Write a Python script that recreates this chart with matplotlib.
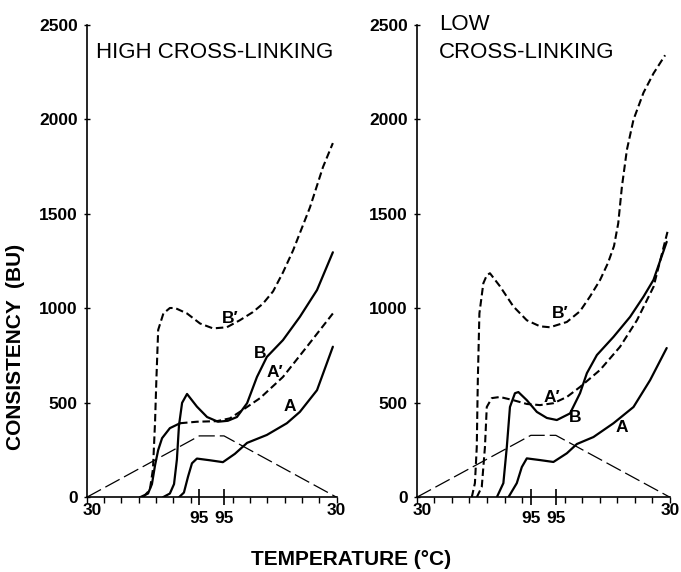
import matplotlib
matplotlib.use("Agg")
import matplotlib.pyplot as plt
import matplotlib.transforms as mtransforms
import numpy as np

plt.rcParams['font.family'] = ['Liberation Sans', 'DejaVu Sans']

# time axis (min): heat 30->95 at 1.5 C/min, hold at 95, cool 95->30
heat_end = 43.33
hold_end = 52.83
t_end = 96.17

# temperature program line (drawn in BU scale)
temp_t = [0, heat_end, hold_end, t_end]
temp_high = [0, 325, 325, 0]
temp_low = [0, 328, 328, 0]

# ---- high cross-linking ----
hA_t = [35.5, 37.4, 39.0, 40.5, 42.4, 47.4, 52.4, 57.0, 61.7, 69.3, 77.0, 82.0, 88.6, 94.7]
hA_bu = [0, 25, 110, 180, 205, 196, 186, 230, 288, 330, 392, 452, 567, 797]

hB_t = [29.3, 32.0, 33.6, 34.7, 35.5, 36.7, 38.6, 42.4, 46.3, 50.5, 54.3, 57.8, 61.7, 65.5, 69.3, 75.5, 82.0, 88.6, 94.7]
hB_bu = [0, 20, 70, 200, 380, 500, 547, 480, 425, 400, 405, 425, 498, 637, 743, 832, 955, 1097, 1297]

hA2_t = [20.5, 23.6, 25.1, 26.3, 27.5, 29.0, 32.0, 35.9, 42.4, 50.1, 55.1, 58.9, 66.7, 75.5, 84.7, 94.7]
hA2_bu = [0, 20, 70, 170, 250, 313, 366, 392, 400, 403, 418, 452, 525, 637, 797, 973]

hB2_t = [21.7, 24.3, 25.5, 26.3, 26.8, 27.5, 29.5, 32.0, 34.0, 38.6, 43.6, 48.6, 53.9, 58.9, 63.9, 67.8, 71.7, 75.5, 79.4, 85.9, 90.9, 94.7]
hB2_bu = [0, 40, 150, 400, 620, 886, 973, 1002, 1002, 973, 920, 894, 900, 937, 980, 1025, 1090, 1190, 1307, 1535, 1748, 1875]

# ---- low cross-linking ----
lA_t = [34.8, 38.0, 39.9, 41.8, 46.8, 51.9, 57.0, 60.8, 67.1, 74.7, 82.3, 88.6, 94.9]
lA_bu = [0, 75, 160, 206, 197, 187, 233, 282, 319, 392, 478, 620, 790]

lB_t = [30.4, 32.9, 34.2, 35.4, 37.3, 38.6, 41.8, 45.6, 49.4, 53.2, 58.2, 62.0, 64.6, 68.4, 74.7, 81.0, 86.1, 89.9, 94.9]
lB_bu = [0, 75, 265, 478, 551, 557, 514, 452, 420, 409, 444, 551, 657, 753, 849, 955, 1062, 1151, 1352]

lA2_t = [22.8, 24.7, 25.9, 26.6, 28.5, 31.6, 36.7, 41.8, 46.8, 51.9, 57.0, 62.0, 69.6, 77.2, 83.6, 89.9, 95.2]
lA2_bu = [0, 55, 265, 478, 525, 531, 514, 494, 488, 498, 531, 584, 674, 797, 937, 1114, 1405]

lB2_t = [20.9, 22.1, 22.8, 23.2, 23.8, 25.3, 26.6, 27.8, 31.6, 36.7, 41.8, 46.8, 50.6, 57.0, 62.0, 65.8, 69.6, 72.6, 74.9, 76.5, 77.9, 79.8, 82.3, 86.1, 89.9, 94.3]
lB2_bu = [0, 75, 265, 620, 973, 1133, 1175, 1186, 1117, 1010, 937, 905, 900, 928, 985, 1063, 1150, 1240, 1330, 1450, 1644, 1840, 1999, 2142, 2244, 2340]

# curve labels (t, BU)
high_labels = [("B\u2032", 55.1, 947), ("B", 66.7, 762), ("A\u2032", 72.4, 662), ("A", 78.2, 478)]
low_labels = [("B\u2032", 54.5, 975), ("A\u2032", 51.4, 530), ("B", 60.1, 425), ("A", 78.0, 372)]

# x ticks every 10 C on heating and cooling
heat_ticks = [(T - 30) / 1.5 for T in range(30, 95, 10)]
cool_ticks = [hold_end + (95 - T) / 1.5 for T in range(90, 29, -10)]
minor_ticks = heat_ticks + cool_ticks
minor_labels = ["30"] + [""] * (len(minor_ticks) - 2) + ["30"]

fig = plt.figure(figsize=(6.81, 5.72), dpi=100)
ax1 = fig.add_axes([0.1273, 0.1306, 0.3671, 0.8257])
ax2 = fig.add_axes([0.6119, 0.1306, 0.3720, 0.8257])

solid = dict(color='black', lw=1.6, solid_capstyle='round', solid_joinstyle='round')
dash = dict(color='black', lw=1.5, dashes=(3.6, 1.8))

def setup(ax):
    ax.set_xlim(0, t_end)
    ax.set_ylim(0, 2500)
    ax.spines['top'].set_visible(False)
    ax.spines['right'].set_visible(False)
    ax.spines['left'].set_linewidth(1.2)
    ax.spines['bottom'].set_linewidth(1.2)
    ax.set_yticks([0, 500, 1000, 1500, 2000, 2500])
    ax.set_yticklabels(['0', '500', '1000', '1500', '2000', '2500'], fontsize=12.5, fontweight='bold')
    ax.tick_params(axis='y', direction='inout', length=5, width=1, pad=4)
    ax.set_xticks([heat_end, hold_end])
    ax.set_xticklabels(['95', '95'], fontsize=12.5, fontweight='bold')
    ax.tick_params(axis='x', which='major', direction='inout', length=12, width=1.2, pad=4)
    ax.set_xticks(minor_ticks, minor=True)
    labs = ax.set_xticklabels(minor_labels, minor=True, fontsize=12.5, fontweight='bold')
    ax.tick_params(axis='x', which='minor', direction='out', length=4, width=1, pad=0)
    # nudge the origin "30" right so it clears the "0"
    shift = mtransforms.ScaledTranslation(4 / 72, 0, fig.dpi_scale_trans)
    labs[0].set_transform(labs[0].get_transform() + shift)
    ax.patch.set_visible(False)

# left panel
ax1.plot(temp_t, temp_high, color='black', lw=0.9, dashes=(13, 4))
ax1.plot(hA_t, hA_bu, **solid)
ax1.plot(hB_t, hB_bu, **solid)
ax1.plot(hA2_t[:8], hA2_bu[:8], **solid)
ax1.plot(hA2_t[7:], hA2_bu[7:], **dash)
ax1.plot(hB2_t, hB2_bu, **dash)
for s, x, y in high_labels:
    ax1.text(x, y, s, fontsize=12.5, fontweight='bold', ha='center', va='center')
setup(ax1)

# right panel
ax2.plot(temp_t, temp_low, color='black', lw=0.9, dashes=(13, 4))
ax2.plot(lA_t, lA_bu, **solid)
ax2.plot(lB_t, lB_bu, **solid)
ax2.plot(lA2_t, lA2_bu, **dash)
ax2.plot(lB2_t, lB2_bu, **dash)
for s, x, y in low_labels:
    ax2.text(x, y, s, fontsize=12.5, fontweight='bold', ha='center', va='center')
setup(ax2)

fig.text(0.141, 0.8986, "HIGH CROSS-LINKING", fontsize=16, va='baseline')
fig.text(0.6446, 0.9476, "LOW", fontsize=16, va='baseline')
fig.text(0.6446, 0.8986, "CROSS-LINKING", fontsize=16, va='baseline')

fig.text(0.023, 0.393, "CONSISTENCY  (BU)", rotation=90, fontsize=15, fontweight='bold',
         ha='center', va='center')
fig.text(0.515, 0.021, "TEMPERATURE (\u00b0C)", fontsize=15, fontweight='bold',
         ha='center', va='center')

fig.savefig("out.png", dpi=100)
